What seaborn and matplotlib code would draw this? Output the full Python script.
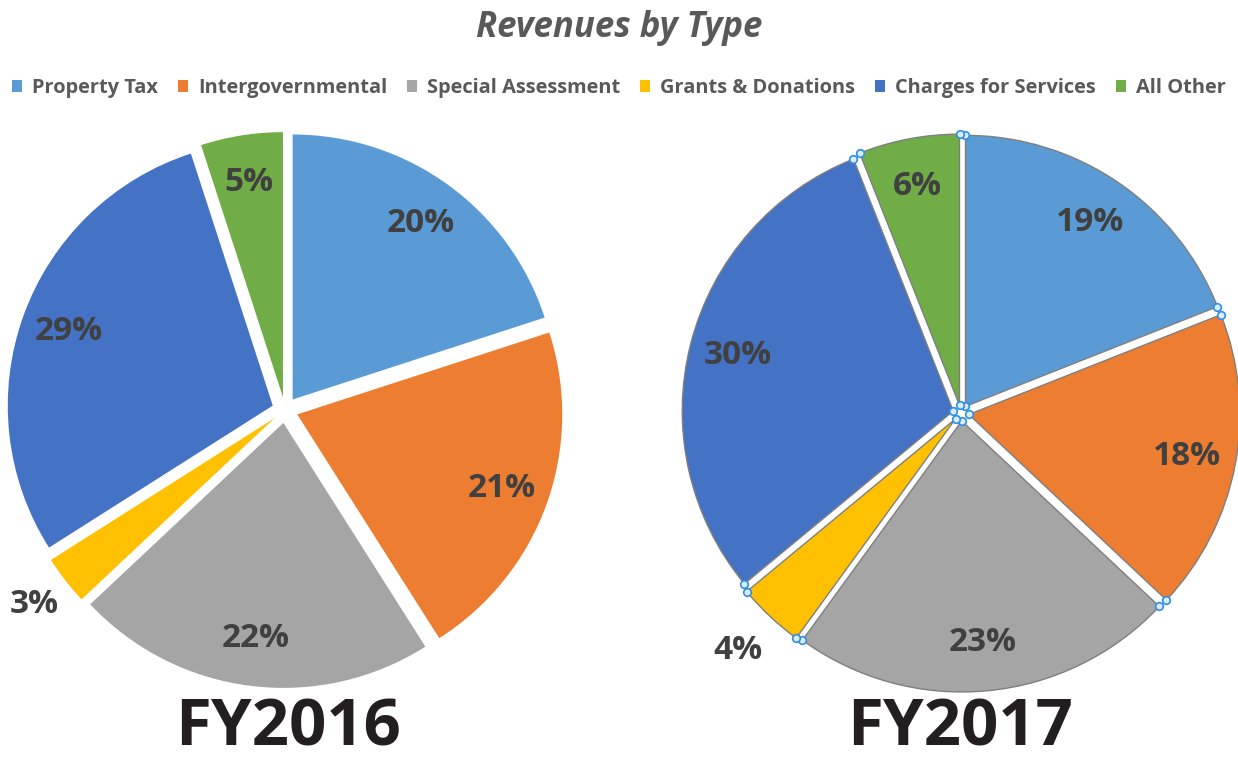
import numpy as np
import seaborn as sns
import matplotlib.pyplot as plt

categories = ["Property Tax", "Intergovernmental", "Special Assessment",
              "Grants & Donations", "Charges for Services", "All Other"]
fy2016 = [20, 21, 22, 3, 29, 5]
fy2017 = [19, 18, 23, 4, 30, 6]
years = ["FY2016", "FY2017"]

colors = sns.color_palette(["#5B9BD5", "#ED7D31", "#A5A5A5", "#FFC000", "#4472C4", "#70AD47"])

sns.set_theme(style="white")
plt.rcParams['font.family'] = ['Open Sans', 'DejaVu Sans']

W, H = 1238, 759
fig = plt.figure(figsize=(W / 100, H / 100), dpi=100)
ax = fig.add_axes([0, 0, 1, 1])


def draw_pie(values, cx, cy, r, gap, edge):
    wedges, texts, autotexts = ax.pie(
        values, colors=colors, startangle=90, counterclock=False,
        center=(cx, cy), radius=r, explode=[gap] * len(values),
        autopct=lambda p: f"{p:.0f}%", pctdistance=0.82,
        wedgeprops=dict(edgecolor=edge, linewidth=1.0 if edge != "none" else 0),
        textprops=dict(color="#404040", fontsize=24, fontweight="bold"),
        frame=True,
    )
    # small slices get their label outside the pie
    for w, t, v in zip(wedges, autotexts, values):
        if v < 5:
            mid = np.deg2rad((w.theta1 + w.theta2) / 2)
            t.set_position((cx + 1.2 * r * np.cos(mid), cy + 1.2 * r * np.sin(mid)))
    return wedges


w16 = draw_pie(fy2016, 285, H - 410, 265, 13, "none")
w17 = draw_pie(fy2017, 961, H - 413, 271, 8, "#7F7F7F")

# selection handles on the FY2017 series (corners of every slice)
hx, hy = [], []
for w in w17:
    c = w.center
    for a in (w.theta1, w.theta2):
        hx.append(c[0] + w.r * np.cos(np.deg2rad(a)))
        hy.append(c[1] + w.r * np.sin(np.deg2rad(a)))
    hx.append(c[0])
    hy.append(c[1])
ax.scatter(hx, hy, s=30, facecolor="#DCEBFA", edgecolor="#2E8FE3", linewidth=1.2, zorder=5)

for x, label in zip([288, 960], years):
    ax.text(x, H - 745, label, ha="center", va="baseline", fontsize=47,
            fontweight="bold", color="#231F20")

ax.set_xlim(0, W)
ax.set_ylim(0, H)
ax.set_aspect("equal")
ax.axis("off")

fig.text(0.5, 1 - 28 / H, "Revenues by Type", ha="center", va="center",
         fontsize=25, fontweight="bold", fontstyle="italic", color="#595959")

fig.legend(w16, categories, loc="center", bbox_to_anchor=(0.5, 1 - 88 / H),
           ncol=6, frameon=False, handlelength=0.5, handleheight=0.5,
           handletextpad=0.5, columnspacing=1.0, labelcolor="#595959",
           prop=dict(weight="bold", size=14.4))

fig.savefig("out.png", dpi=100)
